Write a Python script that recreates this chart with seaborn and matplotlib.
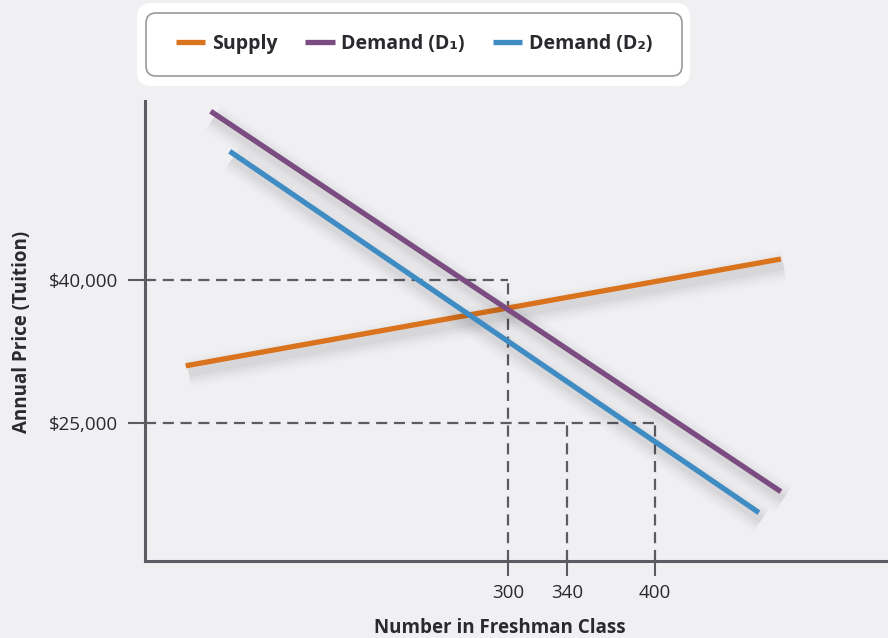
import matplotlib
matplotlib.use("Agg")
import matplotlib.pyplot as plt
import matplotlib.patheffects as pe
from matplotlib.lines import Line2D
from matplotlib.patches import FancyBboxPatch
from matplotlib.transforms import IdentityTransform
import pandas as pd
import seaborn as sns

# ---- data -------------------------------------------------------------
series = ["Supply", "Demand (D₁)", "Demand (D₂)"]
supply_q = [80, 486]
supply_p = [31000, 42200]
d1_q = [97, 486]
d1_p = [57700, 17800]
d2_q = [110, 471]
d2_p = [53500, 15600]

x_ticks = [300, 340, 400]
y_ticks = [25000, 40000]
y_tick_labels = ["$25,000", "$40,000"]

# guide lines: price level -> quantity where the horizontal guide stops
price_guides = {40000: 300, 25000: 400}
# quantity -> price where the vertical guide stops
quantity_guides = {300: 40000, 340: 25000, 400: 25000}

colors = {"Supply": "#d9731e", "Demand (D₁)": "#7a4c82", "Demand (D₂)": "#3f8bc4"}

df = pd.concat([
    pd.DataFrame({"q": supply_q, "p": supply_p, "curve": series[0]}),
    pd.DataFrame({"q": d1_q, "p": d1_p, "curve": series[1]}),
    pd.DataFrame({"q": d2_q, "p": d2_p, "curve": series[2]}),
], ignore_index=True)

# ---- style ------------------------------------------------------------
sns.set_theme(style="white")
plt.rcParams["font.family"] = ["Open Sans", "DejaVu Sans"]
bg = "#f0eff2"
axis_col = "#5c5b62"
text_col = "#2a292e"

W, H = 888, 638
fig = plt.figure(figsize=(W / 100, H / 100), dpi=100, facecolor=bg)
ax = fig.add_axes([145 / W, (H - 561) / H, (W - 145) / W, (561 - 101) / H])
ax.set_facecolor("none")

xlim = (52.2, 559.1)
ylim = (10524, 58777)
ax.set_xlim(*xlim)
ax.set_ylim(*ylim)

# dashed guide lines
guide_kw = dict(color=axis_col, lw=1.6, linestyle=(0, (5, 3)), zorder=1)
for price, q_end in price_guides.items():
    ax.plot([xlim[0], q_end], [price, price], **guide_kw)
for q, p_end in quantity_guides.items():
    ax.plot([q, q], [ylim[0], p_end], **guide_kw)

# supply and demand curves
n_before = len(ax.lines)
sns.lineplot(data=df, x="q", y="p", hue="curve", palette=colors,
             linewidth=3.8, legend=False, ax=ax, zorder=3, sort=False)
# soft drop shadow built from several faint, widening strokes
shadow = [pe.SimpleLineShadow(offset=(2, -5), shadow_color="#000000", alpha=a, linewidth=w)
          for w, a in ((22, 0.012), (18, 0.015), (14, 0.02), (10, 0.025), (6, 0.03))]
shadow.append(pe.Normal())
for ln in ax.lines[n_before:]:
    ln.set_solid_capstyle("butt")
    ln.set_path_effects(shadow)

# axes
for side in ("top", "right"):
    ax.spines[side].set_visible(False)
for side in ("left", "bottom"):
    ax.spines[side].set_color(axis_col)
    ax.spines[side].set_linewidth(2.2)
    ax.spines[side].set_capstyle("projecting")

ax.set_xticks(x_ticks)
ax.set_xticklabels([str(v) for v in x_ticks])
ax.set_yticks(y_ticks)
ax.set_yticklabels(y_tick_labels)
ax.tick_params(axis="y", direction="out", length=12.5, width=1.5, color=axis_col,
               labelsize=13.5, labelcolor=text_col, pad=7, left=True)
ax.tick_params(axis="x", direction="out", length=10.5, width=1.5, color=axis_col,
               labelsize=13.5, labelcolor=text_col, pad=6, bottom=True)

ax.set_xlabel("Number in Freshman Class", fontsize=13.5, fontweight="bold", color=text_col)
ax.set_ylabel("Annual Price (Tuition)", fontsize=13.5, fontweight="bold", color=text_col)
ax.xaxis.set_label_coords((500 - 145) / (W - 145), (561 - 628) / (561 - 101))
ax.xaxis.label.set_va("center")
ax.yaxis.set_label_coords((22 - 145) / (W - 145), (561 - 332) / (561 - 101))
ax.yaxis.label.set_va("center")

# legend panel: white rounded card with an inner outlined box
outer = FancyBboxPatch((137, H - 86), 553, 83, boxstyle="round,pad=0,rounding_size=14",
                       transform=IdentityTransform(), facecolor="white", edgecolor="none",
                       zorder=0)
inner = FancyBboxPatch((146, H - 76), 536, 63, boxstyle="round,pad=0,rounding_size=10",
                       transform=IdentityTransform(), facecolor="white", edgecolor="#9a989e",
                       linewidth=1.2, zorder=1)
fig.add_artist(outer)
fig.add_artist(inner)

handles = [Line2D([0], [0], color=colors[s], lw=3.8, solid_capstyle="butt") for s in series]
leg = fig.legend(handles, series, loc="center", bbox_to_anchor=(414 / W, 1 - 44 / H),
                 ncol=3, frameon=False, handlelength=1.5, handletextpad=0.35,
                 columnspacing=1.45, prop={"size": 14, "weight": "bold"})
for t in leg.get_texts():
    t.set_color(text_col)
leg.set_zorder(5)

fig.savefig("out.png", dpi=100, facecolor=bg)
